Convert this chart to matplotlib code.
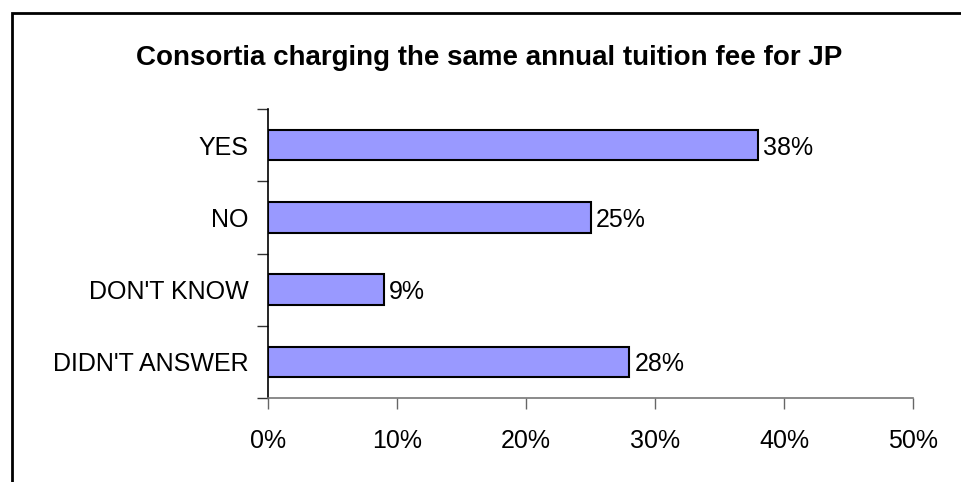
import matplotlib.pyplot as plt
from matplotlib.patches import Rectangle

# data
categories = ["YES", "NO", "DON'T KNOW", "DIDN'T ANSWER"]
shares = [0.38, 0.25, 0.09, 0.28]
x_ticks = [0.0, 0.1, 0.2, 0.3, 0.4, 0.5]
title = "Consortia charging the same annual tuition fee for JP"

plt.rcParams['font.family'] = ['Liberation Sans', 'DejaVu Sans']

W, H = 962, 482
fig = plt.figure(figsize=(W / 100, H / 100), dpi=100)
ax = fig.add_axes([268 / W, 1 - 398 / H, (913 - 268) / W, (398 - 109) / H])

ypos = list(range(len(categories)))[::-1]
ax.barh(ypos, shares, height=0.42, color='#9999FF', edgecolor='black', linewidth=1.5)

for y, v in zip(ypos, shares):
    ax.text(v + 0.004, y, f"{v:.0%}", va='center_baseline', ha='left', fontsize=18)

ax.set_xlim(0, 0.5)
ax.set_ylim(-0.5, len(categories) - 0.5)
ax.set_xticks(x_ticks)
ax.set_xticklabels([f"{t:.0%}" for t in x_ticks], fontsize=18)
ax.set_yticks(ypos)
ax.set_yticklabels(categories, fontsize=18)
ax.set_yticks([i - 0.5 for i in range(len(categories) + 1)], minor=True)

ax.tick_params(axis='y', which='major', length=0, pad=14)
ax.tick_params(axis='y', which='minor', length=8, width=1, color='#333333')
ax.tick_params(axis='x', length=8, width=1, color='#666666', pad=14)

for side in ['top', 'right']:
    ax.spines[side].set_visible(False)
ax.spines['left'].set_color('black')
ax.spines['left'].set_linewidth(1.2)
ax.spines['bottom'].set_color('#777777')
ax.spines['bottom'].set_linewidth(1.2)

fig.text(489 / W, 1 - 58 / H, title, ha='center', va='center',
         fontsize=20, fontweight='bold')

# outer chart border (runs off the right and bottom edges)
fig.patches.append(Rectangle((12 / W, -0.1), 1.2, 1 - 13 / H + 0.1,
                             transform=fig.transFigure, fill=False,
                             edgecolor='black', linewidth=2))

fig.savefig('out.png', dpi=100)
